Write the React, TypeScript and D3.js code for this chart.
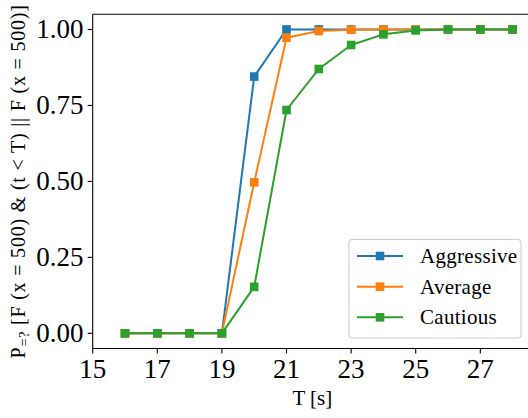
import React from "react";
import * as d3 from "d3";

const times = [16, 17, 18, 19, 20, 21, 22, 23, 24, 25, 26, 27, 28];
const aggressive = [0, 0, 0, 0, 0.845, 1.0, 1.0, 1.0, 1.0, 1.0, 1.0, 1.0, 1.0];
const average = [0, 0, 0, 0, 0.497, 0.973, 0.995, 0.999, 1.0, 1.0, 1.0, 1.0, 1.0];
const cautious = [0, 0, 0, 0, 0.153, 0.735, 0.87, 0.949, 0.984, 0.997, 1.0, 1.0, 1.0];
const seriesNames = ["Aggressive", "Average", "Cautious"];
const seriesColors = ["#1f77b4", "#ff7f0e", "#2ca02c"];
const xTicks = [15, 17, 19, 21, 23, 25, 27];
const yTicks = [0, 0.25, 0.5, 0.75, 1.0];

const W = 528;
const H = 418;
const FONT = "'Liberation Serif', 'DejaVu Serif', serif";

export default function App() {
  const x = d3.scaleLinear().domain([15, 28.6]).range([92.7, 532]);
  const y = d3.scaleLinear().domain([-0.05, 1.05]).range([348.5, 14.3]);
  const left = x(15);
  const right = x(28.6);
  const top = y(1.05);
  const bottom = y(-0.05);

  const series = [aggressive, average, cautious];
  const line = d3
    .line<[number, number]>()
    .x((d) => x(d[0]))
    .y((d) => y(d[1]));

  const ms = 8.6;

  const legend = { x: 349, y: 239.5, w: 172, h: 98.5 };
  const rowY = [256, 286.7, 317.3];

  return (
    <svg
      width={W}
      height={H}
      style={{ position: "absolute", left: 0, top: 0, background: "#fff" }}
      fontFamily={FONT}
    >
      <rect x={0} y={0} width={W} height={H} fill="#fff" />
      {/* series lines and markers */}
      {series.map((vals, si) => {
        const pts = times.map((t, i) => [t, vals[i]] as [number, number]);
        return (
          <g key={si}>
            <path
              d={line(pts) || ""}
              fill="none"
              stroke={seriesColors[si]}
              strokeWidth={2}
              strokeLinejoin="round"
            />
            {pts.map((p, i) => (
              <rect
                key={i}
                x={x(p[0]) - ms / 2}
                y={y(p[1]) - ms / 2}
                width={ms}
                height={ms}
                fill={seriesColors[si]}
              />
            ))}
          </g>
        );
      })}

      {/* spines */}
      <line x1={left} x2={left} y1={top} y2={bottom} stroke="#000" strokeWidth={1.1} />
      <line x1={left} x2={right} y1={bottom} y2={bottom} stroke="#000" strokeWidth={1.1} />
      <line x1={left} x2={right} y1={top} y2={top} stroke="#000" strokeWidth={1.1} />
      <line x1={right} x2={right} y1={top} y2={bottom} stroke="#000" strokeWidth={1.1} />

      {/* x axis ticks */}
      {xTicks.map((t) => (
        <g key={t}>
          <line x1={x(t)} x2={x(t)} y1={bottom} y2={bottom + 5} stroke="#000" strokeWidth={1.1} />
          <text x={x(t)} y={378} fontSize={27} textAnchor="middle" fill="#000">
            {t}
          </text>
        </g>
      ))}
      {/* y axis ticks */}
      {yTicks.map((t) => (
        <g key={t}>
          <line x1={left - 5} x2={left} y1={y(t)} y2={y(t)} stroke="#000" strokeWidth={1.1} />
          <text x={83.5} y={y(t) + 9} fontSize={27} textAnchor="end" fill="#000">
            {t.toFixed(2)}
          </text>
        </g>
      ))}

      {/* axis labels */}
      <text x={(left + right) / 2} y={405} fontSize={21} textAnchor="middle" fill="#000">
        T [s]
      </text>
      <text
        transform={`translate(25, ${(top + bottom) / 2}) rotate(-90)`}
        fontSize={20}
        letterSpacing={0.8}
        textAnchor="middle"
        fill="#000"
      >
        P
        <tspan fontSize={14} dy={4}>=?</tspan>
        <tspan dy={-4}> [F (x = 500) &amp; (t &lt; T) || F (x = 500)]</tspan>
      </text>

      {/* legend */}
      <rect
        x={legend.x}
        y={legend.y}
        width={legend.w}
        height={legend.h}
        rx={3.5}
        fill="#fff"
        fillOpacity={0.8}
        stroke="#cccccc"
        strokeWidth={1.1}
      />
      {seriesNames.map((name, i) => (
        <g key={name}>
          <line x1={357} x2={403} y1={rowY[i]} y2={rowY[i]} stroke={seriesColors[i]} strokeWidth={2} />
          <rect x={380 - ms / 2} y={rowY[i] - ms / 2} width={ms} height={ms} fill={seriesColors[i]} />
          <text x={420} y={rowY[i] + 7} fontSize={21} letterSpacing={0.3} fill="#000">
            {name}
          </text>
        </g>
      ))}
    </svg>
  );
}
